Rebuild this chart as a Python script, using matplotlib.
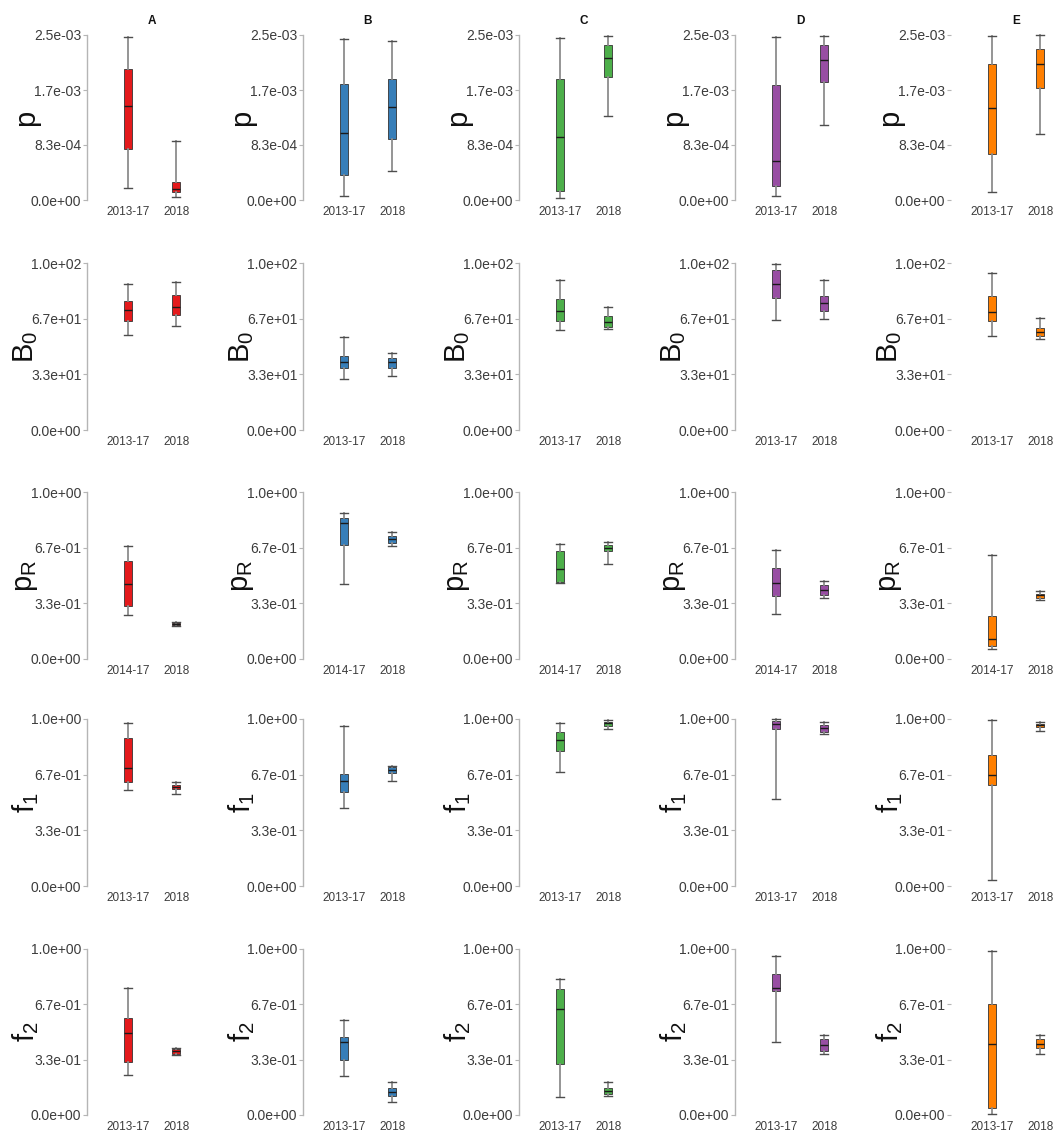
import matplotlib
matplotlib.use("Agg")
import matplotlib.pyplot as plt
from matplotlib.ticker import FixedLocator, FuncFormatter

plt.rcParams["font.family"] = ["Liberation Sans", "DejaVu Sans"]
plt.rcParams["mathtext.fontset"] = "custom"
plt.rcParams["mathtext.rm"] = "Liberation Sans"
plt.rcParams["mathtext.it"] = "Liberation Sans:italic"

# --------------------------------------------------------------------------- #
# Data: five-number summaries (whisker low, q1, median, q3, whisker high)
# one tuple per site A..E, early period and 2018
# --------------------------------------------------------------------------- #
sites = ["A", "B", "C", "D", "E"]
site_colors = ["#e41a1c", "#377eb8", "#4daf4a", "#984ea3", "#ff7f00"]

p_early = [
    (0.18e-3, 0.77e-3, 1.42e-3, 1.98e-3, 2.47e-3),
    (0.06e-3, 0.38e-3, 1.02e-3, 1.76e-3, 2.44e-3),
    (0.03e-3, 0.14e-3, 0.95e-3, 1.83e-3, 2.46e-3),
    (0.06e-3, 0.21e-3, 0.59e-3, 1.74e-3, 2.47e-3),
    (0.12e-3, 0.69e-3, 1.39e-3, 2.06e-3, 2.48e-3),
]
p_2018 = [
    (0.05e-3, 0.12e-3, 0.17e-3, 0.27e-3, 0.89e-3),
    (0.44e-3, 0.92e-3, 1.41e-3, 1.83e-3, 2.41e-3),
    (1.27e-3, 1.87e-3, 2.15e-3, 2.35e-3, 2.49e-3),
    (1.14e-3, 1.79e-3, 2.12e-3, 2.35e-3, 2.49e-3),
    (1.00e-3, 1.70e-3, 2.06e-3, 2.29e-3, 2.50e-3),
]

b0_early = [
    (56.6, 65.2, 71.9, 77.5, 87.3),
    (30.8, 37.0, 40.5, 44.6, 55.4),
    (60.0, 65.5, 71.5, 78.7, 90.0),
    (65.7, 79.2, 87.3, 96.0, 99.2),
    (56.1, 65.4, 70.9, 80.3, 94.1),
]
b0_2018 = [
    (62.2, 68.9, 73.5, 80.7, 88.9),
    (32.5, 37.0, 40.5, 43.3, 46.4),
    (60.4, 61.6, 64.9, 68.0, 73.9),
    (66.2, 71.5, 75.9, 80.2, 89.7),
    (54.3, 56.4, 58.8, 61.2, 67.1),
]

pr_early = [
    (0.266, 0.316, 0.450, 0.584, 0.674),
    (0.452, 0.683, 0.817, 0.845, 0.876),
    (0.455, 0.462, 0.539, 0.647, 0.690),
    (0.270, 0.378, 0.457, 0.543, 0.652),
    (0.058, 0.078, 0.118, 0.258, 0.623),
]
pr_2018 = [
    (0.200, 0.206, 0.212, 0.218, 0.222),
    (0.679, 0.697, 0.721, 0.738, 0.759),
    (0.569, 0.647, 0.664, 0.681, 0.698),
    (0.365, 0.383, 0.413, 0.443, 0.465),
    (0.352, 0.366, 0.381, 0.392, 0.410),
]

f1_early = [
    (0.576, 0.620, 0.706, 0.886, 0.978),
    (0.466, 0.562, 0.631, 0.669, 0.959),
    (0.684, 0.807, 0.873, 0.925, 0.975),
    (0.522, 0.940, 0.970, 0.990, 0.998),
    (0.034, 0.607, 0.662, 0.783, 0.993),
]
f1_2018 = [
    (0.550, 0.578, 0.592, 0.602, 0.624),
    (0.631, 0.679, 0.697, 0.710, 0.721),
    (0.943, 0.960, 0.975, 0.985, 0.992),
    (0.912, 0.925, 0.947, 0.965, 0.980),
    (0.931, 0.952, 0.966, 0.972, 0.983),
]

f2_early = [
    (0.243, 0.319, 0.492, 0.583, 0.763),
    (0.236, 0.334, 0.440, 0.468, 0.574),
    (0.106, 0.306, 0.638, 0.762, 0.821),
    (0.438, 0.745, 0.766, 0.851, 0.957),
    (0.007, 0.042, 0.430, 0.669, 0.986),
]
f2_2018 = [
    (0.360, 0.366, 0.384, 0.400, 0.406),
    (0.077, 0.116, 0.141, 0.165, 0.197),
    (0.115, 0.128, 0.145, 0.162, 0.200),
    (0.370, 0.387, 0.421, 0.455, 0.481),
    (0.370, 0.405, 0.430, 0.458, 0.479),
]

params = [
    ("p", 2.5e-3, ["2013-17", "2018"], p_early, p_2018),
    (r"$\mathrm{B_0}$", 100.0, ["2013-17", "2018"], b0_early, b0_2018),
    (r"$\mathrm{p_R}$", 1.0, ["2014-17", "2018"], pr_early, pr_2018),
    (r"$\mathrm{f_1}$", 1.0, ["2013-17", "2018"], f1_early, f1_2018),
    (r"$\mathrm{f_2}$", 1.0, ["2013-17", "2018"], f2_early, f2_2018),
]

# --------------------------------------------------------------------------- #
# Layout (pixels)
# --------------------------------------------------------------------------- #
W, H = 1054, 1135
col_left = [87 + 216 * i for i in range(5)]
panel_w = 130
row_top = [35, 263, 492, 719, 949]
row_bottom = [200, 430, 659, 886, 1115]

AXIS_GREY = "#b5b5b5"
TEXT_GREY = "#3c3c3c"


def five_num(t, label):
    lo, q1, med, q3, hi = t
    return dict(whislo=lo, q1=q1, med=med, q3=q3, whishi=hi, fliers=[], label=label)


fig = plt.figure(figsize=(W / 100, H / 100), dpi=100)

for r, (ylabel, ymax, periods, early, late) in enumerate(params):
    for c, site in enumerate(sites):
        ax = fig.add_axes([col_left[c] / W, 1 - row_bottom[r] / H,
                           panel_w / W, (row_bottom[r] - row_top[r]) / H])
        stats = [five_num(early[c], periods[0]), five_num(late[c], periods[1])]
        ax.bxp(stats, positions=[1, 2], widths=0.17, capwidths=0.17,
               patch_artist=True, showfliers=False,
               boxprops=dict(facecolor=site_colors[c], edgecolor="#333333", linewidth=0.6),
               medianprops=dict(color="#1a1a1a", linewidth=1.0),
               whiskerprops=dict(color="#8c8c8c", linewidth=1.3),
               capprops=dict(color="#4d4d4d", linewidth=1.0))
        for art in ax.get_children():
            art.set_clip_on(False)

        ax.set_xlim(0.15, 2.85)
        ax.set_ylim(0, ymax)
        ticks = [0, ymax / 3, 2 * ymax / 3, ymax]
        ax.yaxis.set_major_locator(FixedLocator(ticks))
        ax.yaxis.set_major_formatter(FuncFormatter(lambda v, _: f"{v:.1e}"))

        for s in ["top", "right", "bottom"]:
            ax.spines[s].set_visible(False)
        ax.spines["left"].set_color(AXIS_GREY)
        ax.spines["left"].set_linewidth(1.0)
        ax.spines["left"].set_bounds(0, ymax)
        if c == 4:
            ax.spines["left"].set_visible(False)

        ax.tick_params(axis="y", length=3, width=0.8, color=AXIS_GREY,
                       labelsize=10, labelcolor=TEXT_GREY, pad=1)
        ax.tick_params(axis="x", length=0, labelsize=8.5, labelcolor=TEXT_GREY, pad=4)
        ax.patch.set_visible(False)

        ax.text(-61 / panel_w, 0.5, ylabel, transform=ax.transAxes,
                rotation=90, ha="center", va="center", fontsize=21, color="#111111")
        if r == 0:
            ax.set_title(site, fontsize=8.5, fontweight="bold", pad=8, color="#111111")

fig.savefig("out.png", dpi=100, facecolor="white")
